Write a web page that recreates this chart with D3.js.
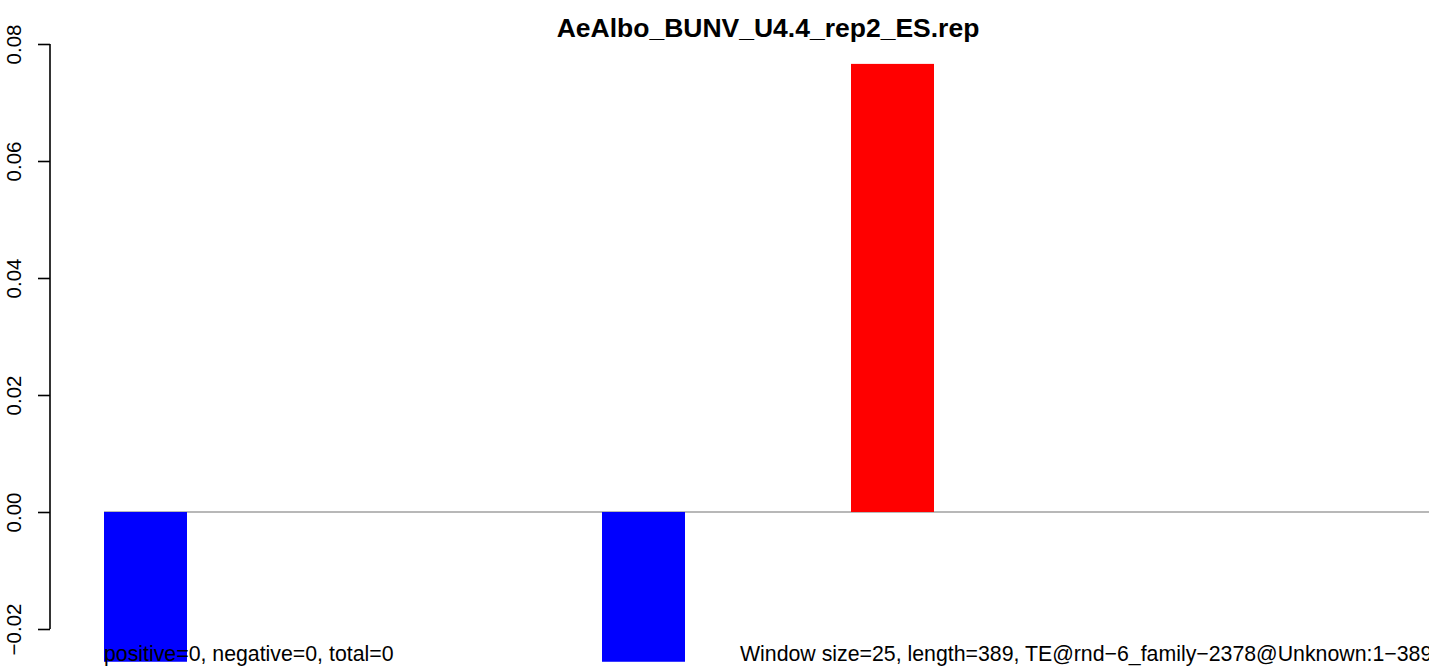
<!DOCTYPE html>
<html>
<head>
<meta charset="utf-8">
<script src="https://cdn.jsdelivr.net/npm/d3@7"></script>
<style>
  html, body { margin: 0; padding: 0; background: #fff; }
  svg { display: block; font-family: "Liberation Sans", Arial, Helvetica, sans-serif; }
</style>
</head>
<body>
<svg id="chart" width="1429" height="666"></svg>
<script>
// ---- data ----
const title = "AeAlbo_BUNV_U4.4_rep2_ES.rep";
const windows = d3.range(16);                       // 389 / 25 -> 16 windows
const values = [-0.0256, 0, 0, 0, -0.0256, 0, 0.0766, 0, 0, 0, 0, 0, 0, 0, 0, 0];
const yTicks = [-0.02, 0.00, 0.02, 0.04, 0.06, 0.08];
const leftNote = "positive=0, negative=0, total=0";
const rightNote = "Window size=25, length=389, TE@rnd\u22126_family\u22122378@Unknown:1\u2212389";

// ---- layout ----
const W = 1429, H = 666;
const svg = d3.select("#chart");

const y = d3.scaleLinear().domain([-0.02, 0.08]).range([629, 44]);
const x = d3.scaleBand().domain(windows)
  .range([104, 104 + 124.5 * (16 - 1/3)])
  .paddingInner(1/3).paddingOuter(0);

// zero line
svg.append("line")
  .attr("x1", x(0)).attr("x2", W)
  .attr("y1", y(0)).attr("y2", y(0))
  .attr("stroke", "#a0a0a0").attr("stroke-width", 1.5);

// bars
svg.append("g").selectAll("rect")
  .data(values.map((v, i) => ({i, v})).filter(d => d.v !== 0))
  .join("rect")
  .attr("x", d => x(d.i))
  .attr("width", x.bandwidth())
  .attr("y", d => Math.min(y(d.v), y(0)))
  .attr("height", d => Math.abs(y(d.v) - y(0)))
  .attr("fill", d => d.v > 0 ? "#ff0000" : "#0000ff");

// y axis
const axis = d3.axisLeft(y).tickValues(yTicks)
  .tickFormat(d3.format(".2f")).tickSize(12).tickPadding(0);
const gA = svg.append("g").attr("transform", "translate(50,0)").call(axis);
gA.select(".domain").attr("stroke", "#000").attr("stroke-width", 1.6)
  .attr("d", `M0,${y(-0.02)}V${y(0.08)}`);
gA.selectAll(".tick line").attr("stroke", "#000").attr("stroke-width", 1.6);
gA.selectAll(".tick text")
  .text(d => d3.format(".2f")(d).replace("-", "\u2212"))
  .attr("x", null).attr("dy", null)
  .attr("text-anchor", "middle")
  .attr("font-size", 20.5).attr("fill", "#000")
  .attr("transform", "translate(-29,0) rotate(-90)");

// title
svg.append("text")
  .attr("x", 768).attr("y", 37)
  .attr("text-anchor", "middle")
  .attr("font-weight", "bold").attr("font-size", 26.5)
  .text(title);

// notes
svg.append("text").attr("x", 104).attr("y", 661)
  .attr("font-size", 21.3).text(leftNote);
svg.append("text").attr("x", 740).attr("y", 661)
  .attr("font-size", 21.3).text(rightNote);
</script>
</body>
</html>
